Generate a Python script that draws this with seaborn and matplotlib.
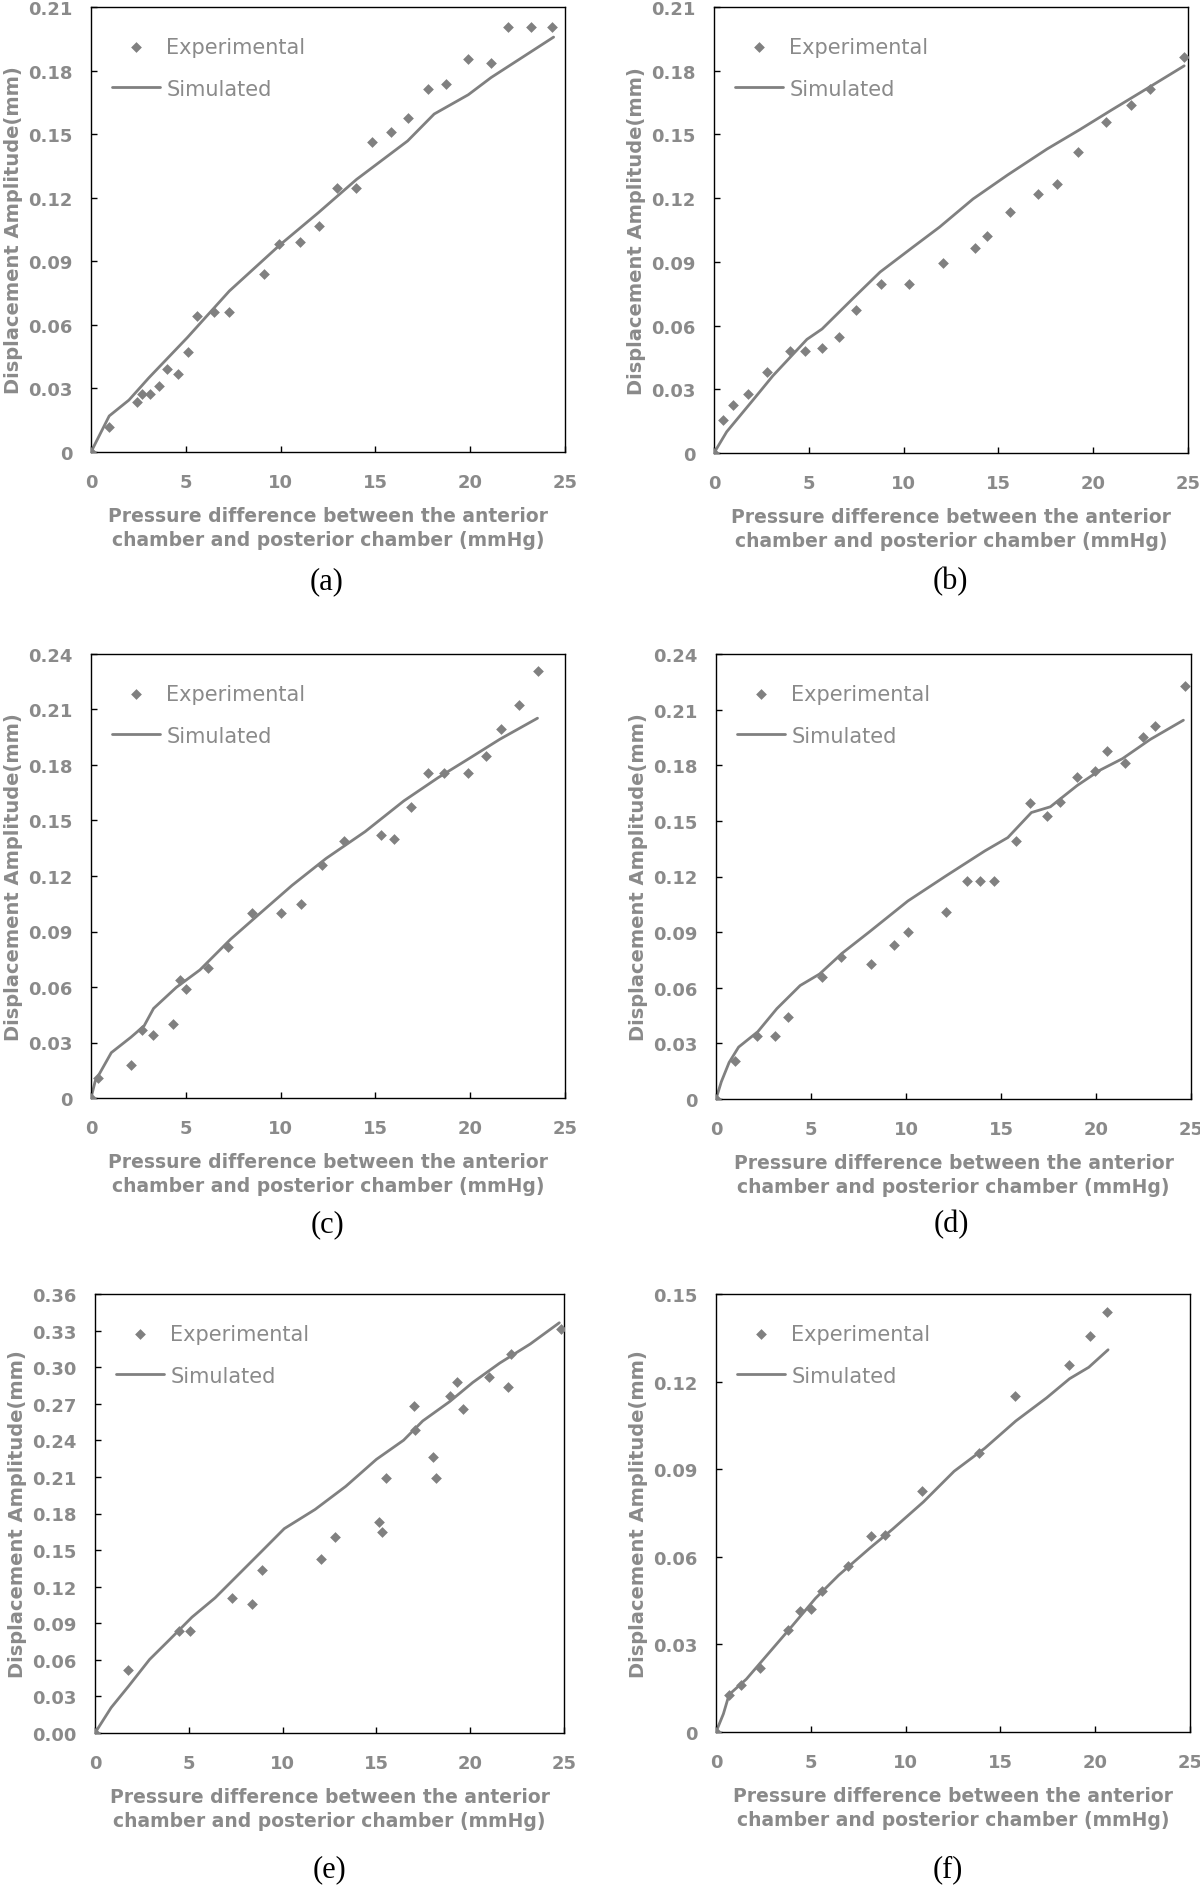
import matplotlib
matplotlib.use("Agg")
import matplotlib.pyplot as plt
import seaborn as sns

# ---- panel (a) ----
a_exp_x = [0, 0.96, 2.4, 2.7, 3.1, 3.6, 4.0, 4.6, 5.1, 5.6, 6.5, 7.3, 9.1, 9.9, 11.0, 12.0,
           13.0, 14.0, 14.8, 15.8, 16.7, 17.8, 18.7, 19.9, 21.1, 22.0, 23.2, 24.3]
a_exp_y = [0, 0.012, 0.0236, 0.0274, 0.0274, 0.031, 0.039, 0.037, 0.047, 0.064, 0.066, 0.066,
           0.084, 0.098, 0.099, 0.1066, 0.1248, 0.1248, 0.1464, 0.151, 0.1577, 0.1715, 0.1737,
           0.1853, 0.1835, 0.2005, 0.2005, 0.2005]
a_sim_x = [0, 0.96, 2.0, 3.05, 5.08, 7.3, 9.96, 12.0, 14.0, 16.7, 18.1, 19.9, 21.1, 24.4]
a_sim_y = [0, 0.017, 0.0245, 0.035, 0.054, 0.076, 0.0977, 0.113, 0.1286, 0.1468, 0.1595,
           0.1686, 0.1767, 0.1958]
a_yticks = [0, 0.03, 0.06, 0.09, 0.12, 0.15, 0.18, 0.21]
a_ylabels = ["0", "0.03", "0.06", "0.09", "0.12", "0.15", "0.18", "0.21"]

# ---- panel (b) ----
b_exp_x = [0, 0.5, 1.0, 1.8, 2.8, 4.0, 4.8, 5.7, 6.6, 7.5, 8.8, 10.3, 12.1, 13.75, 14.4, 15.6,
           17.1, 18.1, 19.2, 20.7, 22.0, 23.0, 24.8]
b_exp_y = [0, 0.0154, 0.0227, 0.0277, 0.038, 0.048, 0.048, 0.0493, 0.0548, 0.0675, 0.0798,
           0.0798, 0.0896, 0.0967, 0.102, 0.1137, 0.1219, 0.1266, 0.1418, 0.156, 0.164, 0.1712, 0.1866]
b_sim_x = [0, 0.67, 2.1, 3.1, 4.9, 5.7, 7.4, 8.76, 10.5, 11.9, 13.66, 15.5, 17.56, 19.3, 20.95,
           22.8, 24.8]
b_sim_y = [0, 0.010, 0.0254, 0.0363, 0.0535, 0.0584, 0.0734, 0.0852, 0.097, 0.1064, 0.1196,
           0.131, 0.1431, 0.1523, 0.1614, 0.1714, 0.1823]
b_yticks = a_yticks
b_ylabels = a_ylabels

# ---- panel (c) ----
c_exp_x = [0, 0.37, 2.1, 2.7, 3.25, 4.3, 4.7, 5.0, 6.15, 7.25, 8.5, 10.0, 11.1, 12.2, 13.35,
           15.3, 16.0, 16.9, 17.75, 18.6, 19.9, 20.85, 21.6, 22.6, 23.55]
c_exp_y = [0, 0.011, 0.0179, 0.037, 0.0343, 0.0401, 0.064, 0.0588, 0.0702, 0.0817, 0.0998,
           0.0998, 0.105, 0.1261, 0.1388, 0.1419, 0.1399, 0.1573, 0.1756, 0.1756, 0.1756,
           0.185, 0.1993, 0.2122, 0.2309]
c_sim_x = [0, 0.22, 1.07, 2.1, 2.8, 3.3, 4.5, 5.74, 7.36, 8.98, 10.6, 12.4, 14.46, 16.5, 18.3,
           19.94, 21.56, 23.55]
c_sim_y = [0, 0.009, 0.0245, 0.0328, 0.039, 0.0484, 0.0598, 0.0692, 0.0858, 0.1004, 0.1149,
           0.1295, 0.144, 0.1606, 0.1731, 0.1835, 0.1939, 0.2053]
c_yticks = [0, 0.03, 0.06, 0.09, 0.12, 0.15, 0.18, 0.21, 0.24]
c_ylabels = ["0", "0.03", "0.06", "0.09", "0.12", "0.15", "0.18", "0.21", "0.24"]

# ---- panel (d) ----
d_exp_x = [0, 1.0, 2.17, 3.1, 3.77, 5.6, 6.56, 8.14, 9.35, 10.1, 12.1, 13.2, 13.9, 14.65, 15.8,
           16.5, 17.4, 18.1, 19.0, 19.96, 20.6, 21.5, 22.45, 23.1, 24.7]
d_exp_y = [0, 0.0203, 0.0342, 0.0342, 0.0442, 0.066, 0.0765, 0.073, 0.083, 0.0902, 0.1006,
           0.1178, 0.1178, 0.1178, 0.139, 0.1597, 0.1525, 0.16, 0.1738, 0.1769, 0.1877, 0.1811,
           0.1952, 0.2012, 0.2226]
d_sim_x = [0, 0.28, 0.69, 1.19, 2.2, 3.2, 4.43, 5.45, 6.66, 8.08, 10.1, 12.1, 14.15, 15.36, 16.6,
           17.6, 19.0, 20.2, 21.4, 22.85, 24.6]
d_sim_y = [0, 0.0093, 0.0197, 0.028, 0.0363, 0.0487, 0.0612, 0.0674, 0.0788, 0.0902, 0.1068,
           0.1203, 0.1338, 0.141, 0.1545, 0.1576, 0.169, 0.1773, 0.1836, 0.1939, 0.2043]
d_yticks = c_yticks
d_ylabels = c_ylabels

# ---- panel (e) ----
e_exp_x = [0, 1.78, 4.47, 5.07, 7.3, 8.39, 8.9, 12.04, 12.8, 15.14, 15.28, 15.5, 17.0, 17.06,
           18.0, 18.17, 18.9, 19.3, 19.63, 20.98, 22.0, 22.2, 24.86]
e_exp_y = [0, 0.0514, 0.0833, 0.0833, 0.1108, 0.1057, 0.1335, 0.1426, 0.1606, 0.1732, 0.165,
           0.2095, 0.2682, 0.2487, 0.2266, 0.2095, 0.2764, 0.2881, 0.2657, 0.2916, 0.284,
           0.3105, 0.3317]
e_sim_x = [0, 0.86, 1.78, 2.91, 3.94, 5.17, 6.4, 7.63, 8.86, 10.09, 11.73, 13.37, 15.0, 16.45,
           17.47, 18.9, 20.14, 21.57, 23.2, 24.75]
e_sim_y = [0, 0.0208, 0.0382, 0.0603, 0.076, 0.095, 0.1108, 0.1297, 0.1486, 0.1676, 0.1833,
           0.2023, 0.2244, 0.2401, 0.2559, 0.2717, 0.2875, 0.3033, 0.319, 0.3364]
e_yticks = [0, 0.03, 0.06, 0.09, 0.12, 0.15, 0.18, 0.21, 0.24, 0.27, 0.30, 0.33, 0.36]
e_ylabels = ["0.00", "0.03", "0.06", "0.09", "0.12", "0.15", "0.18", "0.21", "0.24",
             "0.27", "0.30", "0.33", "0.36"]

# ---- panel (f) ----
f_exp_x = [0, 0.71, 1.3, 2.31, 3.81, 4.42, 5.01, 5.58, 6.94, 8.16, 8.93, 10.86, 13.88, 15.77,
           18.6, 19.72, 20.64]
f_exp_y = [0, 0.0128, 0.0161, 0.022, 0.035, 0.0416, 0.0422, 0.0484, 0.0567, 0.0672, 0.0675,
           0.0826, 0.0956, 0.1149, 0.1257, 0.1355, 0.1439]
f_sim_x = [0, 0.39, 0.69, 1.6, 2.82, 4.04, 5.25, 6.47, 8.1, 9.32, 10.94, 12.56, 14.18, 15.81,
           17.43, 18.65, 19.66, 20.68]
f_sim_y = [0, 0.0062, 0.0128, 0.0181, 0.0273, 0.0365, 0.0458, 0.0537, 0.0629, 0.0695, 0.0788,
           0.0893, 0.0972, 0.1065, 0.1144, 0.121, 0.1249, 0.1309]
f_yticks = [0, 0.03, 0.06, 0.09, 0.12, 0.15]
f_ylabels = ["0", "0.03", "0.06", "0.09", "0.12", "0.15"]

x_ticks = [0, 5, 10, 15, 20, 25]
captions = ["(a)", "(b)", "(c)", "(d)", "(e)", "(f)"]
x_title = "Pressure difference between the anterior\nchamber and posterior chamber (mmHg)"
y_title = "Displacement Amplitude(mm)"

GRAY = "#808080"
TEXT_GRAY = "#8a8a8a"

sns.set_theme(style="white")
plt.rcParams["font.family"] = ["DejaVu Sans"]

fig = plt.figure(figsize=(12, 18.9), dpi=100)
W, H = 1200, 1890

# axes boxes in pixels: left, right, top, bottom
boxes = [(91, 565, 8, 453), (714, 1188, 8, 454),
         (91, 565, 655, 1099), (716, 1191, 655, 1100),
         (95, 564, 1295, 1734), (716, 1190, 1295, 1733)]
caption_pos = [(327, 582), (950, 582), (327, 1225), (951, 1225), (330, 1870), (948, 1870)]

panels = [
    (a_exp_x, a_exp_y, a_sim_x, a_sim_y, a_yticks, a_ylabels),
    (b_exp_x, b_exp_y, b_sim_x, b_sim_y, b_yticks, b_ylabels),
    (c_exp_x, c_exp_y, c_sim_x, c_sim_y, c_yticks, c_ylabels),
    (d_exp_x, d_exp_y, d_sim_x, d_sim_y, d_yticks, d_ylabels),
    (e_exp_x, e_exp_y, e_sim_x, e_sim_y, e_yticks, e_ylabels),
    (f_exp_x, f_exp_y, f_sim_x, f_sim_y, f_yticks, f_ylabels),
]

for i, (ex, ey, sx, sy, yt, yl) in enumerate(panels):
    l, r, t, b = boxes[i]
    ax = fig.add_axes([l / W, 1 - b / H, (r - l) / W, (b - t) / H])
    sns.scatterplot(x=ex, y=ey, ax=ax, marker="D", s=30, color=GRAY,
                    edgecolor=GRAY, linewidth=0, label="Experimental", zorder=3)
    sns.lineplot(x=sx, y=sy, ax=ax, color=GRAY, lw=2.0, sort=False,
                 estimator=None, label="Simulated")
    ax.set_xlim(0, 25)
    ax.set_ylim(yt[0], yt[-1])
    ax.set_xticks(x_ticks, labels=[str(v) for v in x_ticks])
    ax.set_yticks(yt, labels=yl)
    ax.tick_params(direction="in", length=4, width=1, color="black",
                   labelsize=13, labelcolor=TEXT_GRAY, bottom=True, left=True)
    ax.tick_params(axis="x", pad=15)
    ax.tick_params(axis="y", pad=13)
    for lab in ax.get_xticklabels() + ax.get_yticklabels():
        lab.set_fontweight("bold")
    for sp in ax.spines.values():
        sp.set_color("black")
        sp.set_linewidth(1.0)
    ax.set_xlabel(x_title, fontsize=13.5, fontweight="bold", color=TEXT_GRAY,
                  linespacing=1.34, labelpad=11)
    ax.set_ylabel(y_title, fontsize=14, fontweight="bold", color=TEXT_GRAY, labelpad=4)
    leg = ax.legend(loc="upper left", bbox_to_anchor=(0.005, 0.975), frameon=False,
                    fontsize=15, handlelength=2.3, handletextpad=0.3,
                    labelspacing=1.05, scatterpoints=1)
    for txt in leg.get_texts():
        txt.set_color(TEXT_GRAY)
    cx, cy = caption_pos[i]
    fig.text(cx / W, 1 - cy / H, captions[i], ha="center", va="center",
             fontsize=22, family=["Liberation Serif", "DejaVu Serif"], color="black")

fig.savefig("out.png", dpi=100, facecolor="white")
